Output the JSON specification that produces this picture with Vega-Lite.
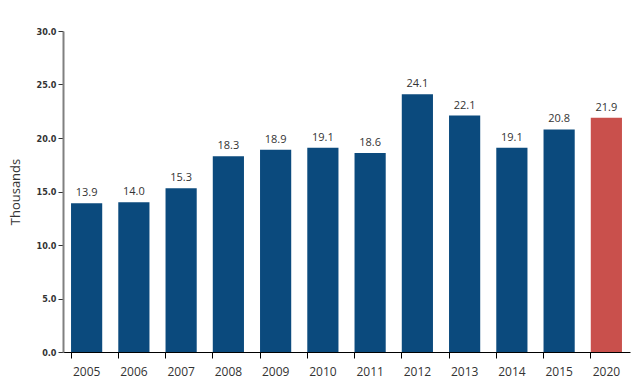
{
  "$schema": "https://vega.github.io/schema/vega-lite/v6.json",
  "autosize": "none",
  "width": 567,
  "height": 321,
  "padding": {"left": 63, "top": 31, "right": 10, "bottom": 35},
  "background": "white",
  "data": {"values": [
    {"year": "2005", "value": 13.9, "kind": "a"},
    {"year": "2006", "value": 14.0, "kind": "a"},
    {"year": "2007", "value": 15.3, "kind": "a"},
    {"year": "2008", "value": 18.3, "kind": "a"},
    {"year": "2009", "value": 18.9, "kind": "a"},
    {"year": "2010", "value": 19.1, "kind": "a"},
    {"year": "2011", "value": 18.6, "kind": "a"},
    {"year": "2012", "value": 24.1, "kind": "a"},
    {"year": "2013", "value": 22.1, "kind": "a"},
    {"year": "2014", "value": 19.1, "kind": "a"},
    {"year": "2015", "value": 20.8, "kind": "a"},
    {"year": "2020", "value": 21.9, "kind": "b"}
  ]},
  "config": {"view": {"stroke": null}},
  "encoding": {
    "x": {"field": "year", "type": "ordinal", "sort": null,
      "scale": {"paddingInner": 0.34, "paddingOuter": 0.17},
      "axis": {"title": null, "labelAngle": 0, "labelFontSize": 12, "labelColor": "#333333", "labelFont": "Open Sans", "labelPadding": 8,
        "domainColor": "#000000", "domainWidth": 1.2, "tickColor": "#000000", "tickSize": 6, "bandPosition": 0, "grid": false}},
    "y": {"field": "value", "type": "quantitative",
      "scale": {"domain": [0, 30], "nice": false},
      "axis": {"title": "Thousands", "titleFontSize": 13, "titleFontWeight": "normal", "titleColor": "#333333", "titleFont": "Open Sans", "titlePadding": 14,
        "values": [0, 5, 10, 15, 20, 25, 30], "format": ".1f", "labelFontSize": 9, "labelFontWeight": "bold", "labelFont": "DejaVu Sans Condensed", "labelColor": "#333333",
        "domainColor": "#808080", "domainWidth": 2, "tickColor": "#333333", "tickSize": 5, "grid": false}}
  },
  "layer": [
    {"mark": {"type": "bar"},
      "encoding": {"color": {"field": "kind", "type": "nominal", "legend": null,
        "scale": {"domain": ["a", "b"], "range": ["#0B4A7D", "#C9504C"]}}}},
    {"mark": {"type": "text", "dy": -10, "fontSize": 11, "color": "#333333", "font": "Open Sans"},
      "encoding": {"text": {"field": "value", "type": "quantitative", "format": ".1f"}}}
  ]
}
